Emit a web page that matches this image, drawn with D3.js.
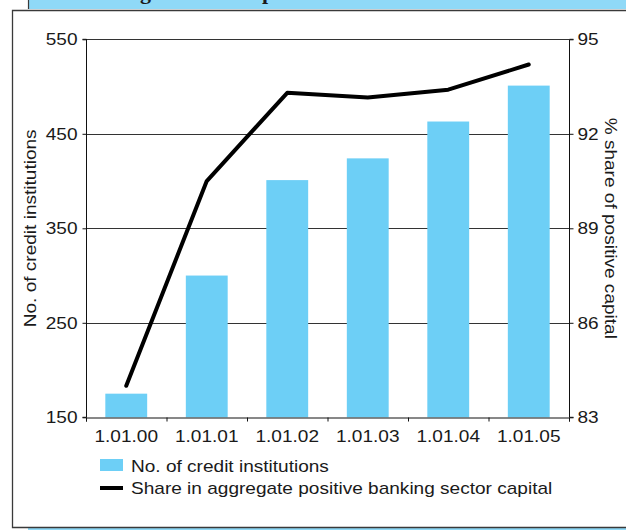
<!DOCTYPE html>
<html>
<head>
<meta charset="utf-8">
<script src="https://cdn.jsdelivr.net/npm/d3@7"></script>
<style>
  html, body { margin: 0; padding: 0; background: #fff; }
  svg { display: block; }
  text { font-family: "Liberation Sans", Arial, Helvetica, sans-serif; fill: #1a1a1a; }
</style>
</head>
<body>
<svg id="chart" width="626" height="530"></svg>
<script>
// Reporting dates (1 January of each year)
const categories = ["1.01.00", "1.01.01", "1.01.02", "1.01.03", "1.01.04", "1.01.05"];
// Number of credit institutions (left axis)
const institutions = [175, 300, 401, 424, 463, 501];
// Share in aggregate positive banking sector capital, % (right axis)
const capitalShare = [84.0, 90.5, 93.3, 93.15, 93.4, 94.2];
// Axis ticks
const leftTicks = [150, 250, 350, 450, 550];
const rightTicks = [83, 86, 89, 92, 95];
// Legend entries
const legendLabels = ["No. of credit institutions", "Share in aggregate positive banking sector capital"];

const barColor = "#6dcff6";
const bandColor = "#8fd9f7";
const frameColor = "#3a3a3a";
const textStretch = 1.12;   // the chart face is set slightly extended

const svg = d3.select("#chart");

// Page furniture: heading band and panel frame
svg.append("rect").attr("x", 28).attr("y", 0).attr("width", 600).attr("height", 9).attr("fill", bandColor);
svg.append("line").attr("x1", 28.5).attr("x2", 28.5).attr("y1", 0).attr("y2", 9)
  .attr("stroke", frameColor).attr("stroke-width", 1.2);
svg.append("text")
  .attr("class", "heading")
  .attr("y", -1)
  .style("font-family", "'Liberation Serif', 'DejaVu Serif', serif")
  .style("font-weight", "bold")
  .style("font-size", "22px")
  .selectAll("tspan").data([["g", 140], ["p", 262]]).join("tspan")
  .attr("x", d => d[1]).text(d => d[0]);

svg.append("rect").attr("x", 28).attr("y", 528).attr("width", 600).attr("height", 2).attr("fill", bandColor);
svg.append("path")
  .attr("d", "M630,10.5 H12.5 V527.5 H630")
  .attr("fill", "none").attr("stroke", frameColor).attr("stroke-width", 1.3);

// Plot geometry
const plot = { left: 86, right: 569, top: 39.3, bottom: 417.3 };

const x = d3.scaleBand().domain(categories).range([plot.left, plot.right]).paddingInner(0.48).paddingOuter(0.24);
const xEdge = d3.scaleLinear().domain([0, categories.length]).range([plot.left, plot.right]);
const yLeft = d3.scaleLinear().domain([150, 550]).range([plot.bottom, plot.top]);
const yRight = d3.scaleLinear().domain([83, 95]).range([plot.bottom, plot.top]);

const g = svg.append("g");

// Horizontal gridlines
g.append("g").selectAll("line").data(leftTicks.slice(1)).join("line")
  .attr("x1", plot.left).attr("x2", plot.right)
  .attr("y1", d => Math.round(yLeft(d)) + 0.5).attr("y2", d => Math.round(yLeft(d)) + 0.5)
  .attr("stroke", "#333").attr("stroke-width", 1);

// Bars
g.append("g").selectAll("rect").data(institutions).join("rect")
  .attr("x", (d, i) => x(categories[i]))
  .attr("width", x.bandwidth())
  .attr("y", d => yLeft(d))
  .attr("height", d => yLeft(150) - yLeft(d))
  .attr("fill", barColor);

// Left axis
const axisLeft = g.append("g").attr("transform", `translate(${plot.left + 0.5},0)`)
  .call(d3.axisLeft(yLeft).tickValues(leftTicks).tickSize(4).tickPadding(5));
// Right axis
const axisRight = g.append("g").attr("transform", `translate(${plot.right + 0.5},0)`)
  .call(d3.axisRight(yRight).tickValues(rightTicks).tickSize(4).tickPadding(4));
// Bottom axis: ticks at category boundaries
const axisBottom = g.append("g").attr("transform", `translate(0,${Math.round(plot.bottom) + 0.5})`)
  .call(d3.axisBottom(xEdge).tickValues(d3.range(categories.length + 1)).tickSize(4).tickFormat(""));
[axisLeft, axisRight, axisBottom].forEach(a => {
  a.select(".domain").attr("stroke", "#111").attr("stroke-width", 1);
  a.selectAll(".tick line").attr("stroke", "#111");
  a.selectAll("text").style("font-size", "17px").attr("fill", "#1a1a1a")
    .style("font-family", "'Liberation Sans', Arial, sans-serif");
});
axisLeft.select(".domain").attr("d", `M-4,${plot.top}H0V${plot.bottom}H-4`);
axisRight.select(".domain").attr("d", `M4,${plot.top}H0V${plot.bottom}H4`);

// Category labels
g.append("g").selectAll("text").data(categories).join("text")
  .attr("x", d => x(d) + x.bandwidth() / 2)
  .attr("y", 442)
  .attr("text-anchor", "middle")
  .style("font-size", "17px")
  .text(d => d);

// Line series on right axis
const line = d3.line()
  .x((d, i) => x(categories[i]) + x.bandwidth() / 2)
  .y(d => yRight(d));
g.append("path").datum(capitalShare)
  .attr("d", line)
  .attr("fill", "none").attr("stroke", "#000").attr("stroke-width", 4)
  .attr("stroke-linejoin", "round").attr("stroke-linecap", "round");

// Axis titles
svg.append("text")
  .attr("transform", `translate(36,${(plot.top + plot.bottom) / 2}) rotate(-90)`)
  .attr("text-anchor", "middle")
  .style("font-size", "17px")
  .text("No. of credit institutions");
svg.append("text")
  .attr("transform", `translate(605,${(plot.top + plot.bottom) / 2}) rotate(90)`)
  .attr("text-anchor", "middle")
  .style("font-size", "17px")
  .text("% share of positive capital");

// Legend
const legend = svg.append("g").attr("transform", "translate(100,459)");
legend.append("rect").attr("x", 0).attr("y", 0).attr("width", 23).attr("height", 12).attr("fill", barColor);
legend.append("line").attr("x1", 0).attr("x2", 23).attr("y1", 29).attr("y2", 29)
  .attr("stroke", "#000").attr("stroke-width", 4);
legend.selectAll("text").data(legendLabels).join("text")
  .attr("x", 31).attr("y", (d, i) => 13 + i * 22)
  .style("font-size", "17px")
  .text(d => d);

// Widen the sans-serif labels to the extended face
svg.selectAll("text").filter(function () { return !this.classList.contains("heading"); })
  .each(function () {
    const w = this.getComputedTextLength();
    if (w > 0) d3.select(this).attr("textLength", w * textStretch).attr("lengthAdjust", "spacingAndGlyphs");
  });
</script>
</body>
</html>
